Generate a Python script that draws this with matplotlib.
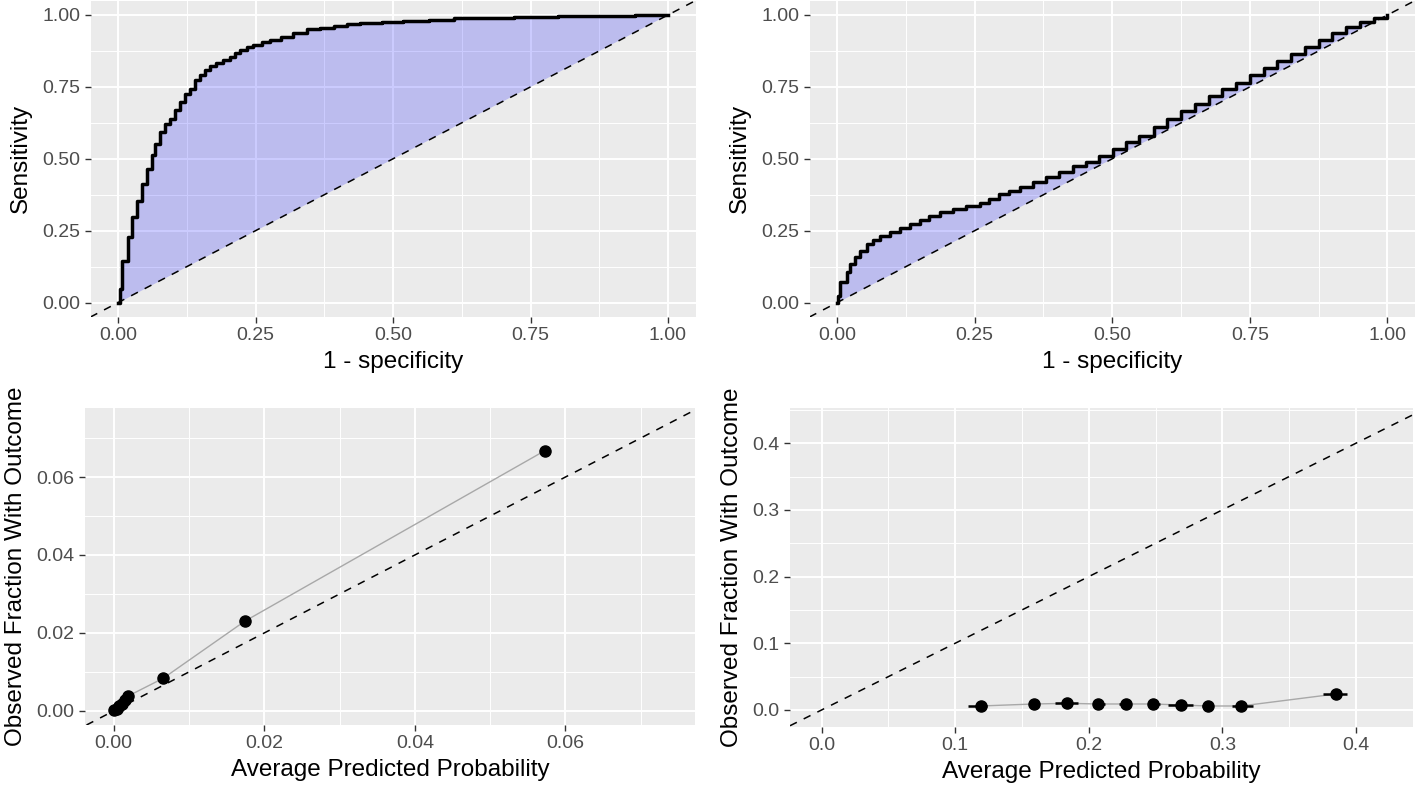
import matplotlib
matplotlib.use("Agg")
import matplotlib.pyplot as plt
from matplotlib import font_manager
import numpy as np

# ROC curve, model 1 (step corners)
roc1_fpr = [0.0, 0.003, 0.008, 0.018, 0.026, 0.034, 0.043, 0.052, 0.061, 0.067, 0.076,
            0.085, 0.094, 0.104, 0.113, 0.122, 0.131, 0.140, 0.149, 0.158, 0.168, 0.179,
            0.191, 0.204, 0.213, 0.222, 0.234, 0.246, 0.261, 0.276, 0.297, 0.319, 0.343,
            0.367, 0.392, 0.416, 0.440, 0.480, 0.519, 0.565, 0.611, 0.660, 0.720, 0.800,
            0.870, 0.940, 1.0]
roc1_tpr = [0.0, 0.047, 0.145, 0.227, 0.297, 0.355, 0.413, 0.465, 0.512, 0.552, 0.593,
            0.622, 0.640, 0.669, 0.698, 0.727, 0.744, 0.775, 0.792, 0.809, 0.821, 0.832,
            0.844, 0.855, 0.867, 0.879, 0.888, 0.896, 0.905, 0.913, 0.925, 0.936, 0.950,
            0.956, 0.962, 0.967, 0.971, 0.976, 0.980, 0.984, 0.988, 0.991, 0.994, 0.996,
            0.998, 0.999, 1.0]

# ROC curve, model 2
roc2_fpr = [0.0, 0.001, 0.005, 0.0175, 0.024, 0.033, 0.042, 0.054, 0.066, 0.078, 0.096,
            0.114, 0.132, 0.150, 0.168, 0.187, 0.211, 0.235, 0.259, 0.277, 0.295, 0.313,
            0.332, 0.356, 0.380, 0.404, 0.428, 0.452, 0.476, 0.501, 0.525, 0.549, 0.575,
            0.600, 0.625, 0.650, 0.675, 0.700, 0.725, 0.750, 0.775, 0.800, 0.825, 0.850,
            0.875, 0.900, 0.925, 0.950, 0.975, 1.0]
roc2_tpr = [0.0, 0.023, 0.070, 0.105, 0.134, 0.157, 0.180, 0.203, 0.218, 0.232, 0.246,
            0.261, 0.273, 0.287, 0.302, 0.314, 0.325, 0.337, 0.348, 0.360, 0.377, 0.389,
            0.401, 0.418, 0.436, 0.455, 0.474, 0.490, 0.511, 0.534, 0.557, 0.581, 0.610,
            0.640, 0.666, 0.692, 0.717, 0.741, 0.765, 0.790, 0.815, 0.841, 0.866, 0.890,
            0.914, 0.937, 0.958, 0.977, 0.991, 1.0]

# calibration, model 1
cal1_pred = [0.0001, 0.0004, 0.0007, 0.0011, 0.0015, 0.0019, 0.0066, 0.0174, 0.0573]
cal1_obs = [0.0002, 0.0006, 0.0012, 0.0019, 0.0029, 0.0038, 0.0084, 0.0230, 0.0668]

# calibration, model 2 (with horizontal ranges)
cal2_pred = [0.119, 0.159, 0.184, 0.207, 0.228, 0.248, 0.269, 0.289, 0.314, 0.385]
cal2_obs = [0.006, 0.009, 0.010, 0.009, 0.009, 0.009, 0.0075, 0.006, 0.006, 0.024]
cal2_lo = [0.110, 0.156, 0.175, 0.203, 0.223, 0.244, 0.259, 0.285, 0.307, 0.375]
cal2_hi = [0.124, 0.163, 0.192, 0.212, 0.232, 0.253, 0.278, 0.293, 0.323, 0.393]

roc_ticks = [0.0, 0.25, 0.5, 0.75, 1.0]
roc_labels = ["0.00", "0.25", "0.50", "0.75", "1.00"]
cal1_ticks = [0.0, 0.02, 0.04, 0.06]
cal1_labels = ["0.00", "0.02", "0.04", "0.06"]
cal2_ticks = [0.0, 0.1, 0.2, 0.3, 0.4]
cal2_labels = ["0.0", "0.1", "0.2", "0.3", "0.4"]

installed = {f.name for f in font_manager.fontManager.ttflist}
family = ["Liberation Sans Narrow"] if "Liberation Sans Narrow" in installed else ["Liberation Sans"]
plt.rcParams["font.family"] = family + ["DejaVu Sans"]

W, H = 1415, 794
fig = plt.figure(figsize=(W / 100, H / 100), dpi=100)
fig.patch.set_facecolor("white")


def px_axes(left, right, top, bottom):
    return fig.add_axes([left / W, 1 - bottom / H, (right - left) / W, (bottom - top) / H])


def gg_style(ax, xticks, xlabels, yticks, ylabels, xlab, ylab, xlim, ylim):
    ax.set_facecolor("#EBEBEB")
    for s in ax.spines.values():
        s.set_visible(False)
    ax.set_xticks(xticks)
    ax.set_xticklabels(xlabels)
    ax.set_yticks(yticks)
    ax.set_yticklabels(ylabels)
    dx = xticks[1] - xticks[0]
    dy = yticks[1] - yticks[0]
    xm = [t - dx / 2 for t in xticks] + [xticks[-1] + dx / 2]
    ym = [t - dy / 2 for t in yticks] + [yticks[-1] + dy / 2]
    ax.set_xticks(xm, minor=True)
    ax.set_yticks(ym, minor=True)
    ax.set_xlim(*xlim)
    ax.set_ylim(*ylim)
    ax.grid(True, which="major", color="white", lw=1.4, zorder=0)
    ax.grid(True, which="minor", color="white", lw=0.7, zorder=0)
    ax.set_axisbelow(True)
    ax.tick_params(which="major", length=4.5, width=1.0, color="#333333",
                   labelcolor="#4D4D4D", labelsize=14, pad=3)
    ax.tick_params(which="minor", length=0)
    ax.set_xlabel(xlab, fontsize=17.5, color="black", labelpad=5)
    ax.set_ylabel(ylab, fontsize=17.5, color="black", labelpad=7)


def roc_panel(ax, fpr, tpr):
    # staircase path (horizontal then vertical) and the diagonal back to the origin
    sx = np.repeat(fpr, 2)[1:]
    sy = np.repeat(tpr, 2)[:-1]
    px = np.concatenate([sx, [fpr[0]]])
    py = np.concatenate([sy, [tpr[0]]])
    ax.fill(px, py, color="blue", alpha=0.2, lw=0, zorder=2)
    ax.axline((0, 0), slope=1, color="black", lw=1.1, ls=(0, (5, 5)), zorder=3)
    ax.plot(fpr, tpr, drawstyle="steps-post", color="black", lw=2.5, zorder=4)
    gg_style(ax, roc_ticks, roc_labels, roc_ticks, roc_labels, "1 - specificity", "Sensitivity",
             (-0.05, 1.05), (-0.05, 1.05))


ax1 = px_axes(90.5, 695.5, 0.6, 317)
roc_panel(ax1, roc1_fpr, roc1_tpr)
ax2 = px_axes(809.5, 1415, 0.6, 317)
roc_panel(ax2, roc2_fpr, roc2_tpr)

ax3 = px_axes(85, 695, 408, 725)
ax3.axline((0, 0), slope=1, color="black", lw=1.1, ls=(0, (5, 5)), zorder=3)
ax3.plot(cal1_pred, cal1_obs, color="#A8A8A8", lw=1.0, zorder=4)
ax3.plot(cal1_pred, cal1_obs, "o", color="black", ms=8, zorder=5)
gg_style(ax3, cal1_ticks, cal1_labels, cal1_ticks, cal1_labels,
         "Average Predicted Probability", "Observed Fraction With Outcome",
         (-0.0038, 0.0772), (-0.0036, 0.0777))

ax4 = px_axes(790, 1413, 408, 727)
ax4.axline((0, 0), slope=1, color="black", lw=1.1, ls=(0, (5, 5)), zorder=3)
ax4.plot(cal2_pred, cal2_obs, color="#A8A8A8", lw=1.0, zorder=4)
ax4.hlines(cal2_obs, cal2_lo, cal2_hi, color="black", lw=1.8, zorder=5)
ax4.plot(cal2_pred, cal2_obs, "o", color="black", ms=8, zorder=6)
gg_style(ax4, cal2_ticks, cal2_labels, cal2_ticks, cal2_labels,
         "Average Predicted Probability", "Observed Fraction With Outcome",
         (-0.0236, 0.4427), (-0.0255, 0.4528))

fig.savefig("out.png", dpi=100)
